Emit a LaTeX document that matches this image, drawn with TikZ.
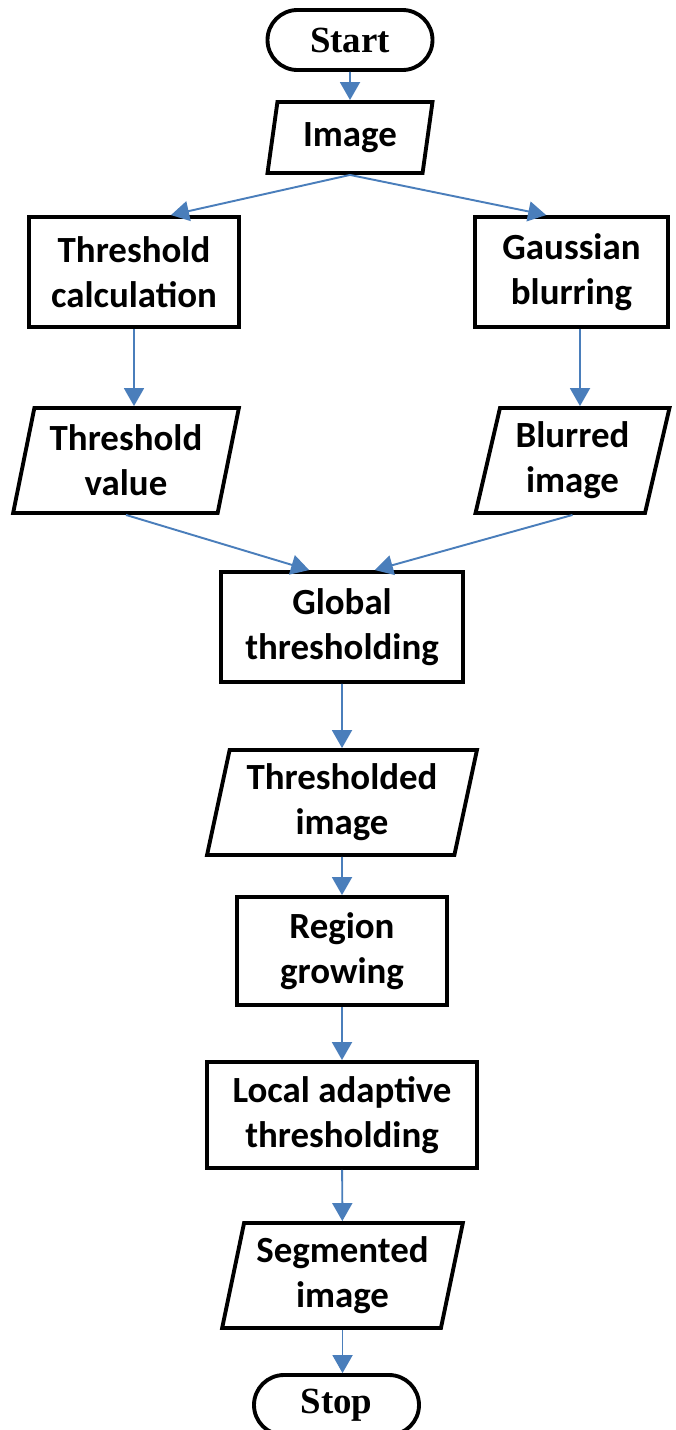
\documentclass[tikz,border=0pt]{standalone}
\usepackage{fontspec}
\setmainfont{Carlito}
\newfontfamily\termfont{Liberation Serif}
\usetikzlibrary{shapes.geometric,arrows.meta}
\definecolor{arrowblue}{RGB}{74,126,187}

\begin{document}
\begin{tikzpicture}[
    boxtext/.style={font=\fontsize{21}{25.5}\selectfont\bfseries, align=center, inner sep=0pt},
    term/.style={draw, line width=2.2pt, rounded corners=0.6cm, minimum height=1.2cm, minimum width=3.3cm,
        inner sep=0pt, font=\fontsize{21}{25.5}\selectfont\termfont\bfseries},
    proc/.style={boxtext, draw, line width=2.2pt, rectangle, minimum height=2.2cm},
    io/.style={boxtext, draw, line width=2.2pt, trapezium, trapezium left angle=76, trapezium right angle=104,
        trapezium stretches=true, minimum height=2.1cm},
    flow/.style={-{Triangle[width=0.4cm,length=0.36cm]}, arrowblue, line width=1.1pt}
]
    \useasboundingbox (0,0) rectangle (13.52,-28.6);

    \node[term] (start) at (7.0,-0.8) {Start};
    \node[io, minimum width=3.32cm, minimum height=1.42cm, trapezium left angle=78, trapezium right angle=102] (img) at (7.0,-2.75) {Image};

    \node[proc, minimum width=4.2cm] (thrcalc) at (2.68,-5.44) {Threshold\\calculation};
    \node[io, minimum width=4.52cm] (thrval) at (2.52,-9.21) {Threshold\\value};

    \node[proc, minimum width=3.86cm] (gauss) at (11.43,-5.44) {Gaussian\\blurring};
    \node[io, minimum width=3.9cm] (blurred) at (11.45,-9.21) {Blurred\\image};

    \node[proc, minimum width=4.84cm] (global) at (6.84,-12.54) {Global\\thresholding};
    \node[io, minimum width=5.4cm] (thrimg) at (6.84,-16.05) {Thresholded\\image};
    \node[proc, minimum width=4.2cm, minimum height=2.16cm] (region) at (6.84,-19.02) {Region\\growing};
    \node[proc, minimum width=5.4cm, minimum height=2.12cm] (local) at (6.84,-22.3) {Local adaptive\\thresholding};
    \node[io, minimum width=4.82cm] (segimg) at (6.85,-25.51) {Segmented\\image};
    \node[term] (stop) at (6.73,-28.1) {Stop};

    \draw[flow] (start) -- (img);
    \draw[flow] (img.south) -- (thrcalc.57);
    \draw[flow] (img.south) -- (gauss.114);

    \draw[flow] (thrcalc.south) -- (thrcalc.south |- thrval.north);
    \draw[flow] ([xshift=0.17cm]gauss.south) -- ([xshift=0.17cm]gauss.south |- blurred.north);

    \draw[flow] (thrval.south) -- (global.120);
    \draw[flow] (blurred.south) -- (global.60);

    \draw[flow] (global) -- (thrimg);
    \draw[flow] (thrimg) -- (region);
    \draw[flow] (region) -- (local);
    \draw[flow] (local) -- (segimg);
    \draw[flow] (segimg.south) -- (segimg.south |- stop.north);

\end{tikzpicture}
\end{document}
